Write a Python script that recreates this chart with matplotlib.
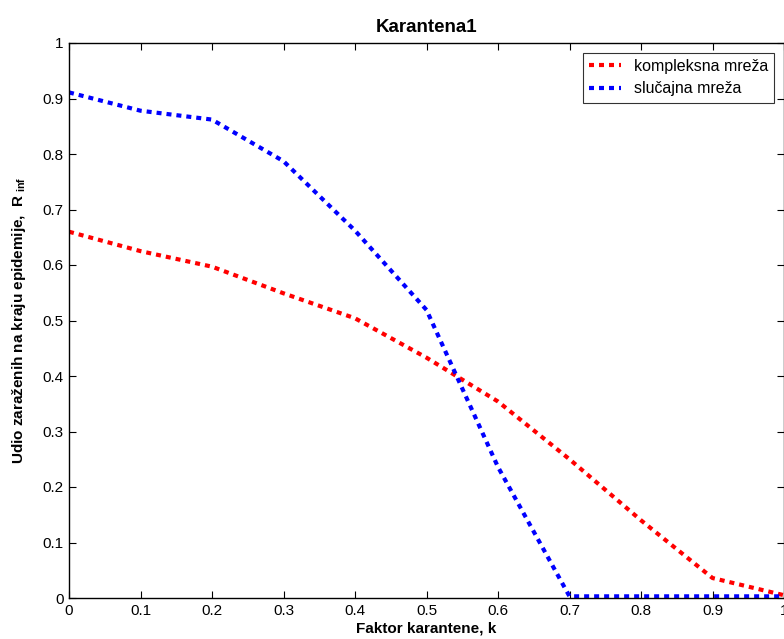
import numpy as np
import matplotlib
matplotlib.use("Agg")
import matplotlib.pyplot as plt

plt.rcParams['font.family'] = ['Liberation Sans', 'DejaVu Sans']
plt.rcParams['mathtext.fontset'] = 'custom'
plt.rcParams['mathtext.rm'] = 'Liberation Sans'
plt.rcParams['mathtext.bf'] = 'Liberation Sans:bold'

# faktor karantene
k = [0.0, 0.1, 0.2, 0.3, 0.4, 0.5, 0.6, 0.7, 0.8, 0.9, 1.0]
# udio zarazenih - kompleksna mreza
kompleksna = [0.660, 0.625, 0.597, 0.549, 0.504, 0.433, 0.354, 0.250, 0.140, 0.036, 0.005]
# udio zarazenih - slucajna mreza
slucajna = [0.911, 0.878, 0.862, 0.787, 0.662, 0.519, 0.236, 0.003, 0.003, 0.003, 0.003]

ticks = [0, 0.1, 0.2, 0.3, 0.4, 0.5, 0.6, 0.7, 0.8, 0.9, 1]
tick_labels = ['0', '0.1', '0.2', '0.3', '0.4', '0.5', '0.6', '0.7', '0.8', '0.9', '1']

fig = plt.figure(figsize=(7.84, 6.39), dpi=100)
ax = fig.add_axes([69 / 784, 41 / 639, 715 / 784, 555 / 639])

dots = (0, (1.2, 1.2))
ax.plot(k, kompleksna, color='#ff0000', lw=3, linestyle=dots, label='kompleksna mreža')
ax.plot(k, slucajna, color='#0000ff', lw=3, linestyle=dots, label='slučajna mreža')

ax.set_xlim(0, 1)
ax.set_ylim(0, 1)
ax.set_xticks(ticks)
ax.set_xticklabels(tick_labels)
ax.set_yticks(ticks)
ax.set_yticklabels(tick_labels)
ax.tick_params(direction='in', top=True, right=True, length=5, width=0.8,
               labelsize=11, pad=4)
for s in ax.spines.values():
    s.set_linewidth(1.0)

ax.set_title('Karantena1', fontsize=13.5, fontweight='bold', pad=8)
ax.set_xlabel('Faktor karantene, k', fontsize=11, fontweight='bold', labelpad=3)
ax.set_ylabel(r'Udio zaraženih na kraju epidemije,  R$_{\mathbf{\ inf}}$',
              fontsize=11, fontweight='bold', labelpad=10)

leg = ax.legend(loc='upper right', fontsize=11.5, frameon=True, fancybox=False,
                edgecolor='black', handlelength=2.0, borderaxespad=0.6,
                labelspacing=0.45)
leg.get_frame().set_linewidth(0.8)

fig.savefig('out.png', dpi=100)
